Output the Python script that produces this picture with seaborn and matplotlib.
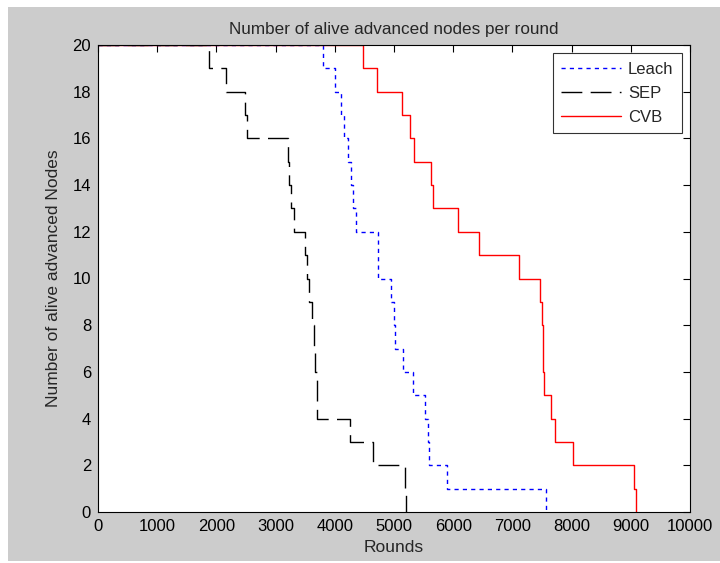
import pandas as pd
import matplotlib
matplotlib.use("Agg")
import matplotlib.pyplot as plt
import seaborn as sns
from matplotlib.patches import Rectangle

# rounds at which the alive-node count changes (step data)
leach_rounds = [0, 3795, 4003, 4105, 4160, 4217, 4274, 4300, 4358, 4723, 4735,
                4949, 5000, 5017, 5158, 5326, 5524, 5570, 5591, 5889, 7560]
sep_rounds = [0, 1880, 2157, 2483, 2512, 3210, 3230, 3260, 3311, 3497, 3530,
              3563, 3608, 3654, 3670, 3693, 3700, 4257, 4651, 5186, 5200]
cvb_rounds = [0, 4480, 4718, 5140, 5270, 5343, 5625, 5664, 6087, 6436, 7117,
              7466, 7505, 7511, 7525, 7534, 7646, 7720, 8018, 9059, 9080]
alive_nodes = [20, 19, 18, 17, 16, 15, 14, 13, 12, 11, 10,
               9, 8, 7, 6, 5, 4, 3, 2, 1, 0]

x_ticks = list(range(0, 10001, 1000))
y_ticks = list(range(0, 21, 2))

sns.set_style("white")
plt.rcParams["font.family"] = ["Liberation Sans", "DejaVu Sans"]

fig = plt.figure(figsize=(7.2, 5.63), dpi=100, facecolor="white")
# grey MATLAB-like figure background
fig.patches.append(Rectangle((8 / 720, 2 / 563), 712 / 720, 554 / 563,
                             transform=fig.transFigure, facecolor="#cccccc",
                             edgecolor="none", zorder=-10))
ax = fig.add_axes([98 / 720, 51 / 563, 592 / 720, 467 / 563])
ax.set_facecolor("white")

series = [
    ("Leach", leach_rounds, "#0000ff", (3, 3)),
    ("SEP", sep_rounds, "black", (15, 6)),
    ("CVB", cvb_rounds, "#ff0000", None),
]
for name, rounds, color, dash in series:
    df = pd.DataFrame({"Rounds": rounds, "Alive": alive_nodes})
    sns.lineplot(data=df, x="Rounds", y="Alive", ax=ax, label=name,
                 color=color, linewidth=1.0, drawstyle="steps-post",
                 estimator=None, sort=False)
    if dash is not None:
        ax.lines[-1].set_dashes(dash)

ax.set_xlim(0, 10000)
ax.set_ylim(0, 20)
ax.set_xticks(x_ticks)
ax.set_yticks(y_ticks)
ax.tick_params(direction="in", length=5, width=0.8, top=True, right=True,
               labelsize=12, colors="black", pad=5)
for s in ax.spines.values():
    s.set_color("black")
    s.set_linewidth(0.8)

ax.set_title("Number of alive advanced nodes per round", fontsize=12.3, pad=8)
ax.set_xlabel("Rounds", fontsize=12.5, labelpad=4)
ax.set_ylabel("Number of alive advanced Nodes", fontsize=12.5, labelpad=8)

leg = ax.legend(loc="upper right", fontsize=12, fancybox=False,
                frameon=True, borderaxespad=0.5, handlelength=3.6,
                handletextpad=0.4, labelspacing=0.55, borderpad=0.5)
leg.get_frame().set_edgecolor("black")
leg.get_frame().set_linewidth(0.8)

fig.savefig("out.png", dpi=100, facecolor=fig.get_facecolor())
